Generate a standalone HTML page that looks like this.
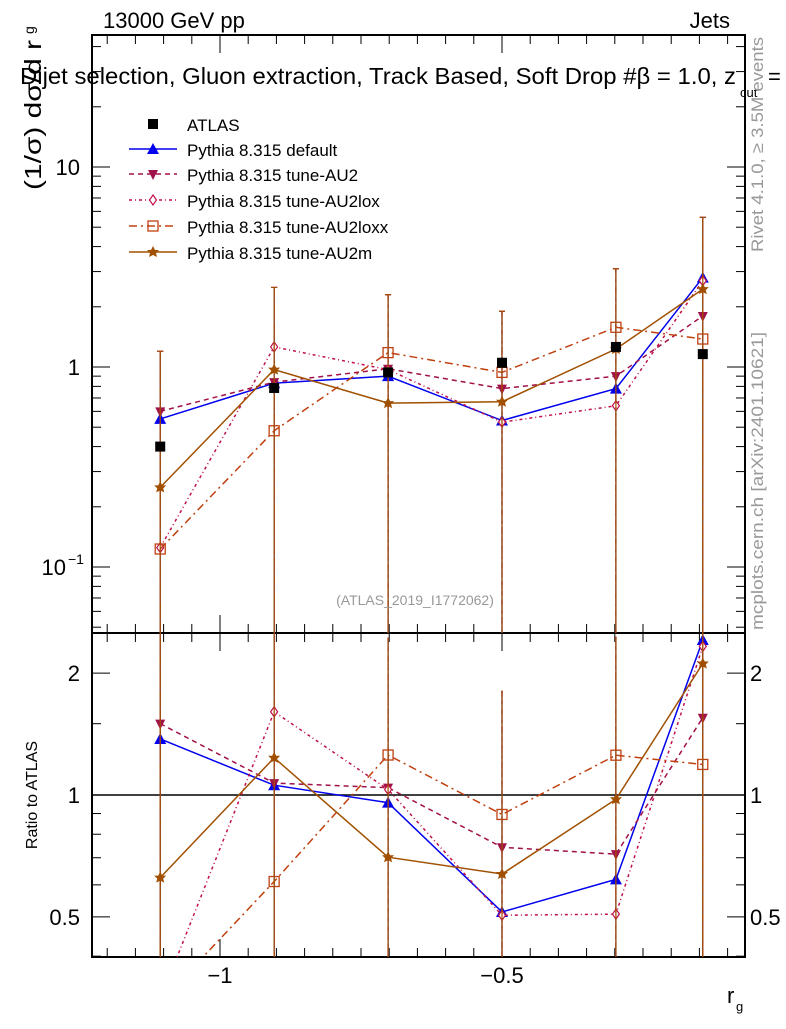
<!DOCTYPE html>
<html><head><meta charset="utf-8"><style>
body{margin:0;background:#fff;width:786px;height:1024px;overflow:hidden}
svg{font-family:"Liberation Sans",sans-serif}
</style></head><body>
<svg id="c" width="786" height="1024" xmlns="http://www.w3.org/2000/svg"></svg>
<script>
const xCenters=[-1.106,-0.904,-0.702,-0.5,-0.298,-0.144];
const atlas=[0.40,0.785,0.94,1.05,1.26,1.16];
const pyDefault=[0.55,0.83,0.90,0.54,0.78,2.8];
const pyAU2=[0.60,0.84,0.98,0.78,0.90,1.8];
const pyAU2lox=[0.125,1.26,0.97,0.53,0.64,2.7];
const pyAU2loxx=[0.123,0.48,1.18,0.94,1.58,1.38];
const pyAU2m=[0.25,0.97,0.66,0.67,1.23,2.45];
const mcErrHi=[1.2,2.5,2.3,1.9,3.1,5.6];
const xTicks=[-1,-0.5];
const xTickLabels=["\u22121","\u22120.5"];
const ratioTicks=[0.5,1,2];

const NS="http://www.w3.org/2000/svg";
const svg=document.getElementById('c');
const L=92,R=745,T=35,M=633,B=957;
const X=v=>502+(v+0.5)*564;
const Y=v=>367-Math.log10(v)*200;
const YR=v=>795-Math.log10(v)*405;
function el(t,a,p){const e=document.createElementNS(NS,t);for(const k in a)e.setAttribute(k,a[k]);(p||svg).appendChild(e);return e;}
function txt(s,a,p){const e=el('text',a,p);e.textContent=s;return e;}
const clipM=el('clipPath',{id:'cm'});el('rect',{x:L,y:T,width:R-L,height:M-T},clipM);
const clipR=el('clipPath',{id:'cr'});el('rect',{x:L,y:M,width:R-L,height:B-M},clipR);

const f1=el('rect',{x:L,y:T,width:R-L,height:M-T,fill:'none',stroke:'#000','stroke-width':2});

const f2=el('rect',{x:L,y:M,width:R-L,height:B-M,fill:'none',stroke:'#000','stroke-width':2});


for(let v=-1.2;v<-0.05;v+=0.05){const x=X(v);const major=Math.abs(v*10-Math.round(v*10))<1e-6&&Math.abs(Math.round(v*10))%5==0;const len=major?18:9;
 [[T,1],[M,1],[M,-1],[B,-1]].forEach(([y,d])=>el('line',{x1:x,x2:x,y1:y,y2:y+d*len,stroke:'#000','stroke-width':1}));}
xTicks.forEach((v,i)=>{const t=txt(xTickLabels[i],{x:X(v),y:983,'font-size':22,'text-anchor':'middle'});});
for(let d=-2;d<=1;d++)for(let m=1;m<10;m++){const v=m*Math.pow(10,d);const y=Y(v);if(y<T||y>M)continue;const len=m==1?18:9;
 el('line',{x1:L,x2:L+len,y1:y,y2:y,stroke:'#000'});el('line',{x1:R,x2:R-len,y1:y,y2:y,stroke:'#000'});}
[[10,'10'],[1,'1']].forEach(([v,s])=>{const t=txt(s,{x:80,y:Y(v)+8,'font-size':22,'text-anchor':'end'});});
const tm=txt('10',{x:66,y:Y(0.1)+8,'font-size':22,'text-anchor':'end'});
txt('\u22121',{x:68,y:Y(0.1)-3,'font-size':14});
[0.4,0.5,0.6,0.7,0.8,0.9,1,1.5,2].forEach(v=>{const y=YR(v);const len=[0.5,1,2].includes(v)?18:9;el('line',{x1:L,x2:L+len,y1:y,y2:y,stroke:'#000'});el('line',{x1:R,x2:R-len,y1:y,y2:y,stroke:'#000'});});
ratioTicks.forEach(v=>{const s=String(v);const a=txt(s,{x:80,y:YR(v)+8,'font-size':22,'text-anchor':'end'});
 const b=txt(s,{x:750,y:YR(v)+8,'font-size':22});});
const one=el('line',{x1:L,x2:R,y1:YR(1),y2:YR(1),stroke:'#000','stroke-width':1.5});


const series=[
 {name:'default',data:pyDefault,color:'#0000ee',dash:'',marker:'tri'},
 {name:'au2',data:pyAU2,color:'#a0104a',dash:'5,4',marker:'itri'},
 {name:'au2lox',data:pyAU2lox,color:'#c0104a',dash:'3,3,1,3',marker:'diamond'},
 {name:'au2loxx',data:pyAU2loxx,color:'#c04010',dash:'8,4,2,4',marker:'square'},
 {name:'au2m',data:pyAU2m,color:'#a05000',dash:'',marker:'star'}];
function marker(kind,x,y,c,g){
 if(kind=='tri')return el('polygon',{points:`${x},${y-6} ${x-6},${y+5} ${x+6},${y+5}`,fill:c},g);
 if(kind=='itri')return el('polygon',{points:`${x},${y+6} ${x-5},${y-4} ${x+5},${y-4}`,fill:c},g);
 if(kind=='diamond')return el('polygon',{points:`${x},${y-5} ${x+3.5},${y} ${x},${y+5} ${x-3.5},${y}`,fill:'#fff',stroke:c,'stroke-width':1.2},g);
 if(kind=='square')return el('rect',{x:x-5,y:y-5,width:10,height:10,fill:'none',stroke:c,'stroke-width':1.3},g);
 if(kind=='star')return el('polygon',{points:`${x},${y-6} ${x+2},${y-2} ${x+6},${y-2} ${x+3},${y+1} ${x+4},${y+5} ${x},${y+3} ${x-4},${y+5} ${x-3},${y+1} ${x-6},${y-2} ${x-2},${y-2}`,fill:c},g);
 if(kind=='sq')return el('rect',{x:x-5,y:y-5,width:10,height:10,fill:c},g);
}
series.forEach(s=>{
 const g=el('g',{'clip-path':'url(#cm)'});
 const gr=el('g',{'clip-path':'url(#cr)'});
 s.data.forEach((v,i)=>{const x=X(xCenters[i]);
  el('line',{x1:x,x2:x,y1:Y(mcErrHi[i]),y2:M+2,stroke:s.color,'stroke-dasharray':s.dash,'stroke-width':1.2},g);
  el('line',{x1:x-3,x2:x+3,y1:Y(mcErrHi[i]),y2:Y(mcErrHi[i]),stroke:s.color},g);
  el('line',{x1:x,x2:x,y1:YR(mcErrHi[i]/atlas[i]),y2:B+2,stroke:s.color,'stroke-dasharray':s.dash,'stroke-width':1.2},gr);});
 const pl=el('polyline',{points:s.data.map((v,i)=>X(xCenters[i])+','+Y(v)).join(' '),fill:'none',stroke:s.color,'stroke-width':1.5,'stroke-dasharray':s.dash},g);
 
 const pr=el('polyline',{points:s.data.map((v,i)=>X(xCenters[i])+','+YR(v/atlas[i])).join(' '),fill:'none',stroke:s.color,'stroke-width':1.5,'stroke-dasharray':s.dash},gr);
 
 s.data.forEach((v,i)=>{const m=marker(s.marker,X(xCenters[i]),Y(v),s.color,g);
  const mr=marker(s.marker,X(xCenters[i]),YR(v/atlas[i]),s.color,gr);});
});
const ga=el('g',{'clip-path':'url(#cm)'});
atlas.forEach((v,i)=>{const m=marker('sq',X(xCenters[i]),Y(v),'#000',ga);});

const leg=el('g',{});
const ly=[124,149,174,200,226,252];
marker('sq',153,ly[0],'#000',leg);
const t0=txt('ATLAS',{x:187,y:ly[0]+7,'font-size':17},leg);
const labels=['Pythia 8.315 default','Pythia 8.315 tune-AU2','Pythia 8.315 tune-AU2lox','Pythia 8.315 tune-AU2loxx','Pythia 8.315 tune-AU2m'];
series.forEach((s,i)=>{const y=ly[i+1];el('line',{x1:129,x2:177,y1:y,y2:y,stroke:s.color,'stroke-width':1.5,'stroke-dasharray':s.dash},leg);marker(s.marker,153,y,s.color,leg);
 const t=txt(labels[i],{x:187,y:y+7,'font-size':17},leg);});

function T2(s,a,n){const t=txt(s,a);return t;}
T2('13000 GeV pp',{x:103,y:28,'font-size':22},'energy-label');
T2('Jets',{x:730,y:28,'font-size':22,'text-anchor':'end'},'process-label');
T2('Dijet selection, Gluon extraction, Track Based, Soft Drop #\u03b2 = 1.0, z',{x:20,y:84,'font-size':23,textLength:716,lengthAdjust:'spacingAndGlyphs'},'plot-title');
T2('cut',{x:740,y:97,'font-size':13},'plot-title-sub');
T2('=',{x:768,y:84,'font-size':22},'plot-title-eq');
T2('(ATLAS_2019_I1772062)',{x:415,y:605,'font-size':14,fill:'#999','text-anchor':'middle'},'analysis-id');
T2('(1/\u03c3) d\u03c3/d r',{x:0,y:0,'font-size':23,textLength:150,lengthAdjust:'spacingAndGlyphs',transform:'translate(41,190) rotate(-90)'},'y-axis-title');
T2('g',{x:0,y:0,'font-size':14,transform:'translate(34,34) rotate(-90)'},'y-axis-title-sub');
T2('Ratio to ATLAS',{x:0,y:0,'font-size':16,'text-anchor':'middle',transform:'translate(37,795) rotate(-90)'},'ratio-axis-title');
T2('r',{x:727,y:1003,'font-size':22},'x-axis-title');
T2('g',{x:736,y:1011,'font-size':13},'x-axis-title-sub');
T2('Rivet 4.1.0, \u2265 3.5M events',{x:0,y:0,'font-size':17,fill:'#999',textLength:215,lengthAdjust:'spacingAndGlyphs',transform:'translate(763,252) rotate(-90)'},'rivet-label');
T2('mcplots.cern.ch [arXiv:2401.10621]',{x:0,y:0,'font-size':17,fill:'#999',textLength:298,lengthAdjust:'spacingAndGlyphs',transform:'translate(763,630) rotate(-90)'},'mcplots-label');
</script>
</body></html>
